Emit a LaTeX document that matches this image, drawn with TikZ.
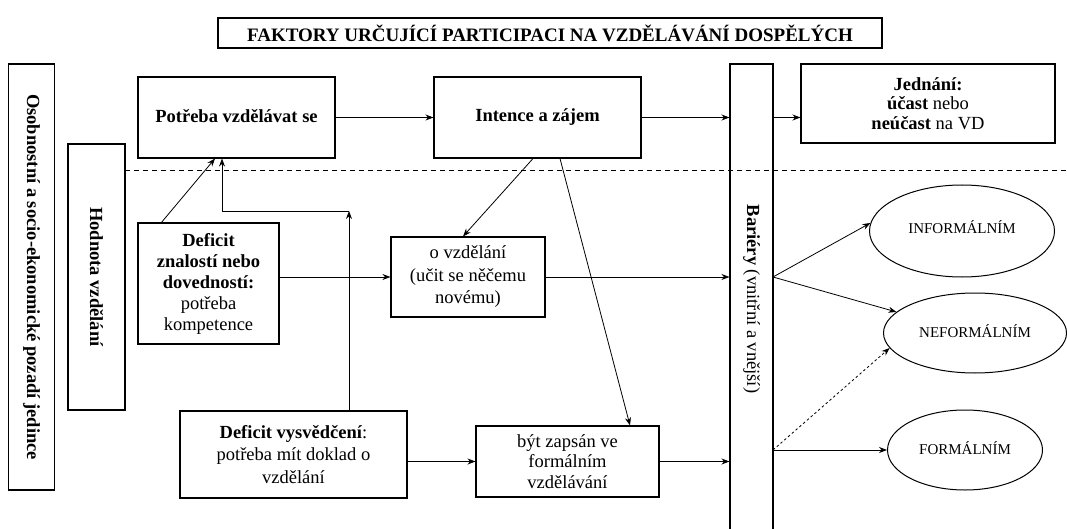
\documentclass[tikz,border=0pt]{standalone}
\usepackage{fontspec}
\setmainfont{Liberation Serif}
\usetikzlibrary{arrows.meta,shapes.geometric}

\tikzset{
  box/.style={draw, line width=1.1pt, align=center, inner sep=2pt,
    font=\fontsize{18.5}{21}\selectfont},
  oval/.style={draw, ellipse, line width=1pt, inner sep=0pt,
    font=\fontsize{15}{17}\selectfont},
  link/.style={->, line width=0.8pt},
  divider/.style={dashed, line width=0.8pt, dash pattern=on 5pt off 4pt},
  dotlink/.style={->, line width=0.8pt, dash pattern=on 2.5pt off 2.5pt}
}

\begin{document}
\begin{tikzpicture}[x=1pt, y=-1pt, >={Stealth[length=8pt,width=6pt]}]

        \useasboundingbox (0,0) rectangle (1067,529);

        % title
        \node[box, minimum width=664pt, minimum height=30pt, font=\fontsize{19}{21}\selectfont\bfseries]
          (title) at (550,33) {FAKTORY URČUJÍCÍ PARTICIPACI NA VZDĚLÁVÁNÍ DOSPĚLÝCH};

        % left columns
        \node[box, minimum width=46pt, minimum height=426pt] (pozadi) at (31.5,277)
          {\rotatebox{-90}{\textbf{Osobnostní a socio-ekonomické pozadí jedince}}};
        \node[box, minimum width=57pt, minimum height=266pt] (hodnota) at (96.5,277)
          {\rotatebox{-90}{\textbf{Hodnota vzdělání}}};

        % top row
        \node[box, minimum width=197pt, minimum height=81pt] (potreba) at (236.5,117.5) {\raisebox{4pt}{\textbf{Potřeba vzdělávat se}}};
        \node[box, minimum width=207pt, minimum height=81pt] (intence) at (537.5,117.5) {\textbf{Intence a zájem}};
        \node[box, minimum width=43pt, minimum height=470pt] (bariery) at (751.5,299)
          {\rotatebox{-90}{\textbf{Bariéry} (vnitřní a vnější)}};
        \node[box, minimum width=254pt, minimum height=79pt, font=\fontsize{18.5}{19.5}\selectfont] (jednani) at (928,103.5)
          {\textbf{Jednání:}\\\textbf{účast} nebo\\\textbf{neúčast} na VD};

        % lower part
        \node[box, minimum width=141pt, minimum height=121pt] (znalosti) at (208.5,283.5)
          {\textbf{Deficit}\\\textbf{znalostí nebo}\\\textbf{dovedností:}\\potřeba\\kompetence};
        \node[box, minimum width=154pt, minimum height=80pt, font=\fontsize{18.5}{22.5}\selectfont] (vzdelani) at (468,277)
          {o vzdělání\\(učit se něčemu\\novému)};
        \node[box, minimum width=227pt, minimum height=87pt, font=\fontsize{18.5}{22.5}\selectfont] (vysvedceni) at (293.5,454.5)
          {\textbf{Deficit vysvědčení}:\\potřeba mít doklad o\\vzdělání};
        \node[box, minimum width=183pt, minimum height=71pt, font=\fontsize{18.5}{20.5}\selectfont] (zapsan) at (567.5,461.5)
          {být zapsán ve\\formálním\\vzdělávání};

        % forms of education
        \node[oval, minimum width=185pt, minimum height=92pt] (informal) at (962,231) {\raisebox{8pt}{INFORMÁLNÍM}};
        \node[oval, minimum width=183pt, minimum height=80pt] (neformal) at (975,333) {\raisebox{3pt}{NEFORMÁLNÍM}};
        \node[oval, minimum width=155pt, minimum height=80pt] (formal) at (965,450) {\raisebox{3pt}{FORMÁLNÍM}};

        \coordinate (dashL) at (125,170);
        \coordinate (dashR) at (1067,170);
        \coordinate (roh) at (349,211);
        \coordinate (fork) at (773,277);
        \coordinate (fork2) at (773,450);

        \draw[divider] (dashL) -- (dashR);

        \draw[link] (potreba) -- (intence);
        \draw[link] (intence.east) -- (intence.east -| bariery.west);
        \draw[link] (bariery.east |- intence.east) -- (jednani.west |- intence.east);

        \draw[link] ([xshift=24pt]znalosti.north west) -- ([xshift=-21.5pt]potreba.south);
        \draw[link] (vysvedceni.north -| roh) -- (roh);
        \draw[link] (roh) -| ([xshift=-14.5pt]potreba.south);

        \draw[link] (znalosti.east |- vzdelani.west) -- (vzdelani.west);
        \draw[link] ([xshift=-4.5pt]intence.south) -- ([xshift=-5pt]vzdelani.north);
        \draw[link] ([xshift=22.5pt]intence.south) -- ([xshift=62.5pt]zapsan.north);
        \draw[link] (vzdelani.east) -- (vzdelani.east -| bariery.west);

        \draw[link] (vysvedceni.east |- zapsan.west) -- (zapsan.west);
        \draw[link] (zapsan.east) -- (zapsan.east -| bariery.west);

        \draw[link] (fork) -- (informal.175);
        \draw[link] (fork) -- (neformal.165);
        \draw[dotlink] (fork2) -- (neformal.190);
        \draw[link] (fork2) -- (formal.west);

        \end{tikzpicture}
\end{document}
